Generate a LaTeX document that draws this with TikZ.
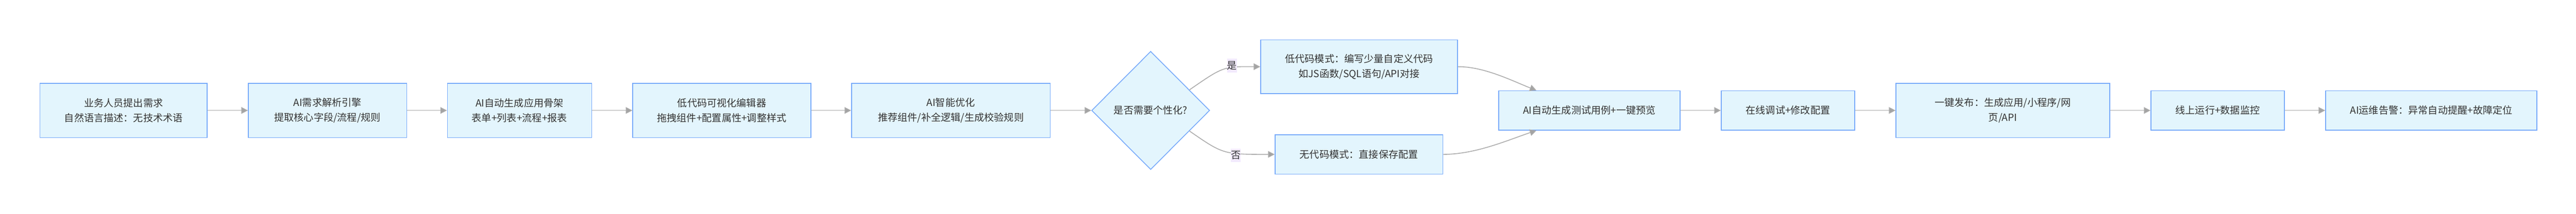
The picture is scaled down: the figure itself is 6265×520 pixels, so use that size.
\documentclass[tikz,border=0pt]{standalone}
\usepackage{fontspec}
\newfontfamily\cjk{Noto Sans CJK SC}
\usetikzlibrary{arrows.meta,shapes.geometric,calc}
\definecolor{boxfill}{HTML}{E3F5FD}
\definecolor{boxline}{HTML}{78AAFA}
\definecolor{edgecol}{HTML}{ABABAB}
\definecolor{tipcol}{HTML}{A3A3A3}
\definecolor{txt}{HTML}{333333}
\definecolor{lblbg}{HTML}{F2EAFD}
\begin{document}
\begin{tikzpicture}[x=1pt,y=-1pt,
  txtfont/.style={font={\cjk\fontsize{24pt}{37pt}\selectfont}, text=txt},
  box/.style={rectangle, draw=boxline, fill=boxfill, line width=2pt, inner sep=0pt, align=center, txtfont},
  decision/.style={diamond, draw=boxline, fill=boxfill, line width=2pt, inner sep=0pt, align=center, txtfont},
  flow/.style={draw=edgecol, line width=2pt, -{Triangle[length=16pt,width=16pt,fill=tipcol]}},
  lbl/.style={fill=lblbg, txtfont, inner xsep=0pt, inner ysep=6pt}
]
\useasboundingbox (0,0) rectangle (6265,520);

\node[box, minimum width=407pt, minimum height=132pt] (n1) at (300.5,269) {业务人员提出需求\\自然语言描述：无技术术语};
\node[box, minimum width=385pt, minimum height=132pt] (n2) at (796.5,269) {AI需求解析引擎\\提取核心字段/流程/规则};
\node[box, minimum width=351pt, minimum height=132pt] (n3) at (1263.5,269) {AI自动生成应用骨架\\表单+列表+流程+报表};
\node[box, minimum width=433pt, minimum height=132pt] (n4) at (1755.5,269) {低代码可视化编辑器\\拖拽组件+配置属性+调整样式};
\node[box, minimum width=483pt, minimum height=132pt] (n5) at (2312.5,269) {AI智能优化\\推荐组件/补全逻辑/生成校验规则};
\node[decision, minimum width=287pt, minimum height=288pt] (d) at (2798.5,269) {是否需要个性化?};
\node[box, minimum width=479pt, minimum height=131pt] (up) at (3305.5,162.5) {低代码模式：编写少量自定义代码\\如JS函数/SQL语句/API对接};
\node[box, minimum width=408pt, minimum height=96pt] (low) at (3305,376) {无代码模式：直接保存配置};
\node[box, minimum width=441pt, minimum height=96pt] (test) at (3865.5,269) {AI自动生成测试用例+一键预览};
\node[box, minimum width=325pt, minimum height=96pt] (debug) at (4348.5,269) {在线调试+修改配置};
\node[box, minimum width=520pt, minimum height=132pt] (pub) at (4871,269) {一键发布：生成应用/小程序/网\\页/API};
\node[box, minimum width=325pt, minimum height=96pt] (run) at (5393.5,269) {线上运行+数据监控};
\node[box, minimum width=514pt, minimum height=96pt] (ops) at (5913,269) {AI运维告警：异常自动提醒+故障定位};

\draw[flow] (n1) -- (n2);
\draw[flow] (n2) -- (n3);
\draw[flow] (n3) -- (n4);
\draw[flow] (n4) -- (n5);
\draw[flow] (n5) -- (d);
\draw[flow] (d.28) .. controls (2975,162) .. (up.west) node[lbl, pos=0.65, yshift=5pt] {是};
\draw[flow] (d.-28) .. controls (2975,376) .. (low.west) node[lbl, pos=0.65, yshift=-5pt] {否};
\draw[flow] (up.east) .. controls (3610,162) and (3680,198) .. ($(test.north west)!0.209!(test.north east)$);
\draw[flow] (low.east) .. controls (3590,376) and (3670,340) .. ($(test.south west)!0.209!(test.south east)$);
\draw[flow] (test) -- (debug);
\draw[flow] (debug) -- (pub);
\draw[flow] (pub) -- (run);
\draw[flow] (run) -- (ops);
\end{tikzpicture}
\end{document}
